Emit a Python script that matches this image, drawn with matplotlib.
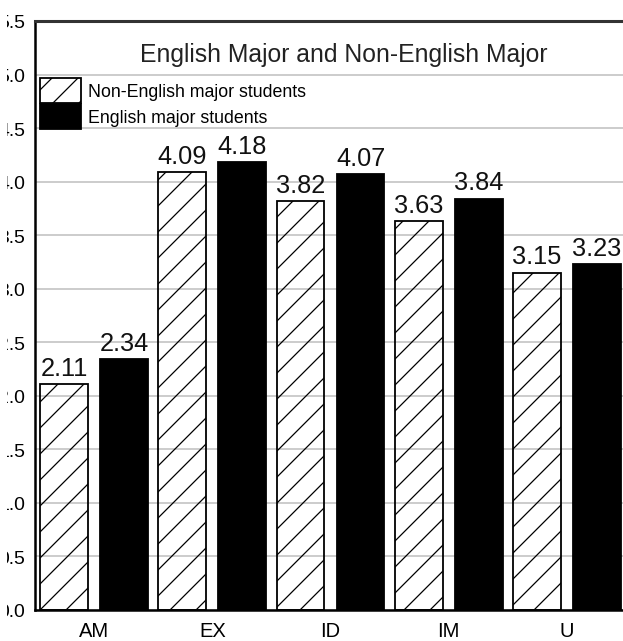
import matplotlib.pyplot as plt
from matplotlib.patches import Rectangle
import numpy as np

DPI = 78
S = 100 / DPI   # keep sizes as if drawn at 100 dpi; lower dpi gives denser hatch

plt.rcParams['font.family'] = ['Liberation Sans', 'DejaVu Sans']
plt.rcParams['hatch.color'] = '#555555'
plt.rcParams['hatch.linewidth'] = 0.9 * S

# data
categories = ['AM', 'EX', 'ID', 'IM', 'U']
non_english = [2.11, 4.09, 3.82, 3.63, 3.15]
english = [2.34, 4.18, 4.07, 3.84, 3.23]
y_ticks = [0.0, 0.5, 1.0, 1.5, 2.0, 2.5, 3.0, 3.5, 4.0, 4.5, 5.0, 5.5]


def main():
    W, H = 623, 642
    fig = plt.figure(figsize=(W / DPI, H / DPI), dpi=DPI)
    # axes is wider than the picture: the original was cropped on the right
    ax = fig.add_axes([35 / W, 31 / H, 591 / W, 589 / H])

    x = np.arange(len(categories))
    width = 0.405
    off = 0.254

    b1 = ax.bar(x - off, non_english, width, facecolor='none', edgecolor='black',
                hatch='/', linewidth=1.3 * S, label='Non-English major students', zorder=3)
    b2 = ax.bar(x + off, english, width, color='black', edgecolor='black',
                linewidth=1.3 * S, label='English major students', zorder=3)

    for bars, vals in ((b1, non_english), (b2, english)):
        for r, v in zip(bars, vals):
            ax.text(r.get_x() + r.get_width() / 2, v + 0.04, '%.2f' % v,
                    ha='center', va='bottom', fontsize=18.3 * S, color='#111111')

    # axes:
    ax.set_xlim(-0.5, 4.5)
    ax.set_ylim(0, 5.5)
    ax.set_xticks(x)
    ax.set_xticklabels(categories, fontsize=14.5 * S)
    ax.set_yticks(y_ticks)
    ax.set_yticklabels(['%.1f' % t for t in y_ticks], fontsize=14 * S)
    ax.tick_params(axis='both', length=0)
    ax.tick_params(axis='y', pad=7 * S)
    ax.tick_params(axis='x', pad=8 * S)
    ax.yaxis.grid(True, color='#c4c4c4', linewidth=1.2 * S, zorder=0)
    ax.set_axisbelow(True)
    for s in ['left', 'bottom']:
        ax.spines[s].set_linewidth(1.8 * S)
        ax.spines[s].set_color('black')
    ax.spines['top'].set_linewidth(2.2 * S)
    ax.spines['top'].set_color('#333333')

    fig.text(344 / W, 1 - 55 / H, 'English Major and Non-English Major',
             ha='center', va='center', fontsize=17.8 * S, color='#222222')

    ax.legend(loc='upper left', bbox_to_anchor=(40 / W, 1 - 79 / H),
              bbox_transform=fig.transFigure, frameon=False, fontsize=12.8 * S,
              handlelength=2.3, handleheight=1.75, handletextpad=0.4,
              labelspacing=0.1, borderpad=0, borderaxespad=0)

    # the reference is cropped on the left: blank strip over the first digits
    fig.patches.append(Rectangle((0, 0), 7 / W, 1, transform=fig.transFigure,
                                 facecolor='white', edgecolor='none', zorder=10))

    fig.savefig('out.png', dpi=DPI)


if __name__ == "__main__":
    main()
